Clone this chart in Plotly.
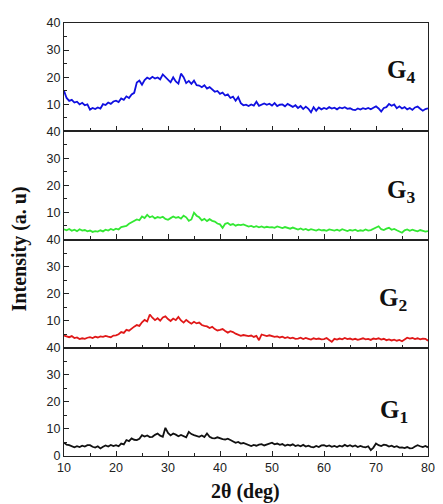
import plotly.graph_objects as go
from plotly.subplots import make_subplots

two_theta = [10 + 0.5 * i for i in range(141)]

g4 = [14.9, 12.3, 11.2, 11.6, 10.6, 10.9, 9.9, 10.5, 9.6, 9.9,
      8.0, 8.6, 8.2, 8.8, 8.4, 10.0, 9.7, 10.6, 10.1, 11.0,
      11.3, 10.8, 12.1, 11.6, 12.9, 12.3, 13.6, 14.2, 18.0, 18.7,
      17.2, 18.9, 19.8, 19.3, 20.1, 19.5, 19.9, 19.2, 21.0, 20.1,
      19.3, 18.1, 19.9, 18.4, 17.6, 21.3, 20.0, 17.8, 18.6, 17.5,
      18.7, 17.0, 16.9, 16.3, 17.0, 15.8, 16.3, 15.6, 14.6, 14.9,
      13.8, 14.3, 13.2, 13.6, 12.3, 12.8, 11.3, 12.6, 10.4, 9.6,
      9.8, 9.3, 9.9, 9.5, 10.9, 9.4, 9.9, 10.3, 9.8, 10.2,
      9.5, 10.4, 9.3, 9.8, 9.9, 9.2, 10.1, 9.4, 9.0, 9.6,
      8.6, 9.3, 8.2, 9.1, 8.3, 7.0, 8.9, 7.6, 8.8, 8.1,
      8.6, 8.2, 8.9, 8.4, 8.7, 8.1, 8.8, 8.5, 8.9, 8.3,
      8.5, 8.0, 7.8, 8.4, 8.0, 8.5, 8.2, 8.6, 8.1, 8.7,
      9.2, 8.4, 7.3, 8.6, 8.9, 10.1, 9.4, 9.9, 8.5, 9.2,
      8.4, 8.9, 8.1, 8.6, 7.9, 8.8, 9.1, 8.3, 7.6, 8.2,
      8.5]

g3 = [3.8, 3.4, 3.9, 3.2, 3.6, 3.1, 3.8, 3.3, 3.5, 3.0,
      3.3, 2.8, 3.1, 2.9, 3.4, 3.0, 3.6, 3.3, 3.9, 3.5,
      4.0, 3.7, 4.6, 4.9, 5.0, 5.8, 6.3, 6.8, 7.4, 7.1,
      8.5, 7.9, 9.1, 8.2, 8.6, 7.8, 8.3, 8.0, 8.4, 7.6,
      7.3, 7.9, 8.5, 8.0, 8.3, 7.7, 8.8, 8.2, 6.9, 7.4,
      9.9, 8.8, 8.2, 7.1, 7.6, 6.8, 7.5, 6.9, 6.6, 5.9,
      5.6, 4.3, 5.8, 6.1, 5.4, 5.7, 5.1, 5.5, 5.3, 5.6,
      5.2, 4.8, 5.0, 4.6, 4.9, 4.5, 4.8, 4.4, 4.7, 4.5,
      4.6, 4.3, 4.8, 4.5, 4.2, 4.6, 4.3, 4.0, 4.4, 3.9,
      3.7, 4.1, 3.6, 3.9, 3.4, 3.8, 3.5, 3.3, 3.7, 3.4,
      3.5, 3.2, 3.7, 3.4, 3.3, 3.6, 3.2, 3.8, 3.4, 3.1,
      3.5, 3.3, 3.6, 3.1, 3.4, 3.2, 3.7, 3.3, 3.5, 3.9,
      4.2, 4.9, 3.8, 3.5, 4.0, 4.3, 3.6, 3.9, 3.4, 3.0,
      2.5, 3.4, 3.7, 3.2, 3.6, 3.3, 3.0, 3.5, 3.2, 2.9,
      3.1]

g2 = [4.5, 4.1, 3.9, 4.3, 3.6, 3.8, 3.2, 3.5, 3.3, 3.7,
      3.9, 3.6, 4.1, 3.8, 4.2, 4.0, 4.4, 4.1, 3.9, 4.5,
      4.6, 5.0, 5.8, 5.5, 6.6, 6.3, 7.2, 7.8, 8.4, 8.1,
      9.4, 10.3, 9.7, 12.3, 11.1, 10.2, 10.9, 10.0, 11.2, 11.6,
      10.6, 9.9, 10.8, 10.2, 11.4, 10.1, 9.3, 10.3, 9.5, 8.9,
      9.6, 9.0, 9.3, 8.4, 8.1, 7.9, 7.3, 7.7, 6.9, 6.4,
      6.6, 6.9, 6.2, 5.6, 6.1, 5.8, 5.2, 4.9, 4.4, 4.7,
      4.6, 4.3, 4.5, 4.0, 4.4, 2.8, 4.9, 4.5, 4.3, 4.6,
      4.4, 4.0, 4.2, 3.8, 4.1, 3.6, 3.9, 3.5, 3.7, 3.3,
      3.4, 3.7, 3.2, 3.6, 3.3, 3.0, 3.5, 3.2, 3.4, 3.1,
      3.2, 3.6, 2.9, 2.2, 3.3, 3.0, 3.4, 3.1, 3.6, 3.2,
      3.4, 3.0, 3.3, 2.9, 3.2, 3.5, 3.1, 3.3, 2.9, 3.4,
      3.2, 3.5, 3.0, 3.3, 2.8, 3.1, 2.7, 3.0, 2.6, 2.9,
      2.4, 3.0, 3.7, 3.4, 3.6, 3.2, 3.5, 3.1, 3.4, 3.3,
      2.6]

g1 = [4.9, 4.2, 4.0, 3.5, 3.2, 3.6, 3.3, 3.8, 3.5, 4.0,
      4.0, 3.4, 3.1, 3.6, 2.8, 3.4, 3.9, 3.5, 4.1, 3.7,
      4.0, 3.6, 4.6, 4.3, 5.9, 5.5, 6.5, 6.0, 5.9, 6.4,
      7.7, 7.2, 7.6, 7.0, 7.1, 7.8, 8.3, 7.5, 7.1, 10.4,
      8.5, 7.6, 8.3, 7.9, 7.3, 7.8, 7.3, 6.9, 8.9, 8.1,
      7.7, 7.3, 7.1, 7.6, 7.0, 8.3, 7.1, 6.6, 6.5, 6.9,
      6.5, 6.2, 6.1, 6.4, 5.9, 5.4, 4.9, 5.2, 4.6, 4.8,
      4.4, 4.0, 3.7, 4.1, 3.8, 4.2, 4.4, 3.9, 4.3, 4.7,
      4.9, 4.3, 4.6, 4.1, 4.4, 3.8, 4.2, 3.9, 4.3, 3.7,
      4.0, 3.6, 4.1, 3.5, 3.8, 3.4, 3.2, 3.7, 3.3, 3.9,
      4.0, 3.6, 3.9, 3.4, 3.7, 3.3, 3.8, 3.5, 4.1, 3.6,
      4.0, 3.5, 3.9, 3.3, 3.7, 3.4, 3.2, 3.6, 2.2, 3.1,
      4.6, 4.0, 3.7, 4.2, 4.0, 3.5, 3.8, 3.3, 3.6, 3.1,
      3.2, 2.9, 3.3, 2.8, 2.9, 3.5, 4.0, 3.6, 3.3, 3.7,
      3.2]

series = [("G<sub>4</sub>", g4, "#1010E0", 22.0, 74.8),
          ("G<sub>3</sub>", g3, "#33E833", 17.8, 74.8),
          ("G<sub>2</sub>", g2, "#E01818", 17.8, 73.2),
          ("G<sub>1</sub>", g1, "#111111", 16.6, 73.4)]

fig = make_subplots(rows=4, cols=1, shared_xaxes=True, vertical_spacing=0)

tickfont = dict(family="Liberation Sans, Arial", size=12.5, color="#222")

for i, (name, ys, color, ly, lx) in enumerate(series):
    row = i + 1
    fig.add_trace(go.Scatter(x=two_theta, y=ys, mode="lines",
                             line=dict(color=color, width=1.8),
                             showlegend=False), row=row, col=1)
    yt = [0, 10, 20, 30, 40] if row == 4 else [10, 20, 30, 40]
    fig.update_yaxes(range=[0, 40], tickvals=yt, ticks="inside", ticklen=5,
                     tickwidth=1, tickcolor="#222",
                     minor=dict(tickvals=[5, 15, 25, 35], ticks="inside", ticklen=3, tickcolor="#222"),
                     showline=True, linecolor="#222", linewidth=1.2, mirror=True,
                     showgrid=False, zeroline=False, tickfont=tickfont,
                     row=row, col=1)
    fig.update_xaxes(range=[10, 80], tickvals=[10, 20, 30, 40, 50, 60, 70, 80],
                     ticks="inside", ticklen=5, tickwidth=1, tickcolor="#222",
                     minor=dict(tickvals=[15, 25, 35, 45, 55, 65, 75], ticks="inside", ticklen=3, tickcolor="#222"),
                     showline=True, linecolor="#222", linewidth=1.2, mirror=True,
                     showgrid=False, zeroline=False, tickfont=tickfont,
                     row=row, col=1)
    yref = "y" if row == 1 else f"y{row}"
    xref = "x" if row == 1 else f"x{row}"
    fig.add_annotation(x=lx, y=ly, xref=xref, yref=yref, text=f"<b>{name}</b>",
                       showarrow=False, xanchor="center", yanchor="middle",
                       font=dict(family="Liberation Serif, Times New Roman", size=25, color="#111"))

fig.update_xaxes(showticklabels=True, row=4, col=1)

fig.add_annotation(x=0.499, y=-0.083, xref="paper", yref="paper",
                   text="<b>2θ (deg)</b>", showarrow=False,
                   xanchor="center", yanchor="middle",
                   font=dict(family="Liberation Serif, Times New Roman", size=20, color="#111"))
fig.add_annotation(x=-0.1225, y=0.478, xref="paper", yref="paper",
                   text="<b>Intensity (a. u)</b>", showarrow=False, textangle=-90,
                   xanchor="center", yanchor="middle",
                   font=dict(family="Liberation Serif, Times New Roman", size=20, color="#111"))

# page body has an 8px default margin, so the figure is sized to fit inside the window
fig.update_layout(width=435, height=496,
                  margin=dict(l=55.5, r=8, t=10.5, b=48),
                  paper_bgcolor="white", plot_bgcolor="white")

fig.write_html("out.html")
